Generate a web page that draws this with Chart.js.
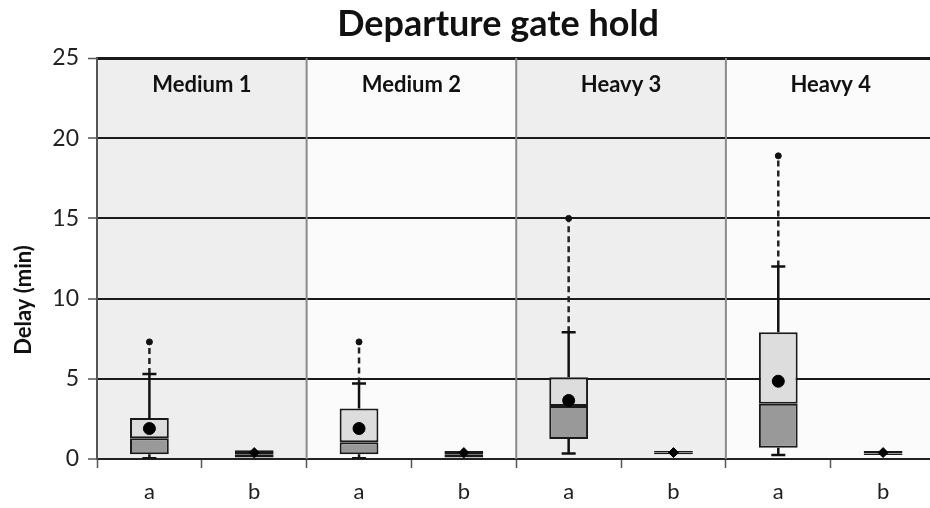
<!DOCTYPE html>
<html>
<head>
<meta charset="utf-8">
<script src="https://cdn.jsdelivr.net/npm/chart.js@4.4.0/dist/chart.umd.min.js"></script>
<style>
  html, body { margin: 0; padding: 0; background: #fff; overflow: hidden; }
  #wrap { width: 930px; height: 508px; overflow: hidden; }
</style>
</head>
<body>
<div id="wrap"><canvas id="chart" width="945" height="508"></canvas></div>
<script>
// ========================================
// data (minutes)
// ========================================
const categories = ['a', 'b', 'a', 'b', 'a', 'b', 'a', 'b'];
const panelNames = ['Medium 1', 'Medium 2', 'Heavy 3', 'Heavy 4'];
const yTicks = [0, 5, 10, 15, 20, 25];

const whiskerLow  = [0.05, 0.05, 0.05, 0.05, 0.35, 0.25, 0.25, 0.2];
const q1          = [0.3, 0.1, 0.3, 0.1, 1.25, 0.3, 0.7, 0.25];
const median      = [1.3, 0.3, 1.05, 0.3, 3.3, 0.4, 3.45, 0.35];
const q3          = [2.55, 0.55, 3.15, 0.5, 5.1, 0.5, 7.9, 0.5];
const whiskerHigh = [5.3, 0.6, 4.7, 0.6, 7.9, 0.55, 12.0, 0.55];
const maxValue    = [7.3, null, 7.3, null, 15.0, null, 18.9, null];
const mean        = [1.9, 0.4, 1.9, 0.4, 3.65, 0.4, 4.85, 0.4];

const FONT = 'Lato';

// ========================================
// build datasets from the arrays
// ========================================
const isA = i => categories[i] === 'a';

const solidPts = [];
const dashedPts = [];
const capPts = [];
const maxPts = [];
categories.forEach((c, i) => {
  solidPts.push({ x: i, y: q3[i] }, { x: i, y: whiskerHigh[i] }, { x: i, y: null });
  solidPts.push({ x: i, y: q1[i] }, { x: i, y: whiskerLow[i] }, { x: i, y: null });
  if (maxValue[i] !== null) {
    dashedPts.push({ x: i, y: whiskerHigh[i] }, { x: i, y: maxValue[i] }, { x: i, y: null });
    maxPts.push({ x: i, y: maxValue[i] });
  }
  if (isA(i)) {
    capPts.push({ x: i, y: whiskerHigh[i] }, { x: i, y: whiskerLow[i] });
  }
});
const meanPts = categories.map((c, i) => ({ x: i, y: mean[i] }));

// ========================================
// panels, labels, titles
// ========================================
const panelPlugin = {
  id: 'panels',
  beforeDraw(chart) {
    const { ctx, chartArea: a, scales: { x } } = chart;
    const w = (a.right - a.left) / categories.length;
    ctx.save();
    ctx.fillStyle = '#fff';
    ctx.fillRect(0, 0, chart.width, chart.height);
    panelNames.forEach((name, p) => {
      const left = x.getPixelForValue(p * 2) - w / 2;
      ctx.fillStyle = p % 2 === 0 ? '#eeeeee' : '#fbfbfb';
      ctx.fillRect(left, a.top, 2 * w, a.bottom - a.top);
    });
    ctx.restore();
  },
  beforeDatasetsDraw(chart) {
    const { ctx, chartArea: a, scales: { x } } = chart;
    const w = (a.right - a.left) / categories.length;
    ctx.save();
    ctx.strokeStyle = '#8a8a8a';
    ctx.lineWidth = 2;
    panelNames.forEach((name, p) => {
      const left = x.getPixelForValue(p * 2) - w / 2;
      if (p > 0) {
        ctx.beginPath();
        ctx.moveTo(left, a.top);
        ctx.lineTo(left, a.bottom);
        ctx.stroke();
      }
      ctx.fillStyle = '#111';
      ctx.font = 'bold 22px ' + FONT;
      ctx.textAlign = 'center';
      ctx.textBaseline = 'middle';
      ctx.fillText(name, left + w, a.top + 27);
    });
    ctx.restore();
  },
  afterDraw(chart) {
    const { ctx } = chart;
    ctx.save();
    ctx.fillStyle = '#111';
    ctx.textAlign = 'center';
    ctx.textBaseline = 'middle';
    ctx.font = 'bold 36px ' + FONT;
    ctx.fillText('Departure gate hold', 498, 24);
    ctx.translate(24, 300);
    ctx.rotate(-Math.PI / 2);
    ctx.font = 'bold 22px ' + FONT;
    ctx.fillText('Delay (min)', 0, 0);
    ctx.restore();
  }
};

// ========================================
// chart
// ========================================
const ctx = document.getElementById('chart').getContext('2d');
new Chart(ctx, {
  data: {
    labels: categories,
    datasets: [
      {
        type: 'scatter',
        label: 'mean',
        xAxisID: 'xl',
        data: meanPts,
        order: 0,
        pointStyle: categories.map((c, i) => isA(i) ? 'circle' : 'rectRot'),
        pointRadius: categories.map((c, i) => isA(i) ? 6 : 5),
        backgroundColor: '#000',
        borderColor: '#000',
        borderWidth: 1
      },
      {
        type: 'scatter',
        label: 'max',
        xAxisID: 'xl',
        data: maxPts,
        order: 0,
        pointStyle: 'circle',
        pointRadius: 3,
        backgroundColor: '#111',
        borderColor: '#111'
      },
      {
        type: 'scatter',
        label: 'caps',
        xAxisID: 'xl',
        data: capPts,
        order: 1,
        pointStyle: 'line',
        pointRadius: 7,
        borderColor: '#111',
        borderWidth: 2.5
      },
      {
        type: 'bar',
        label: 'Q1-median',
        data: q1.map((v, i) => [v, median[i]]),
        order: 3,
        grouped: false,
        barPercentage: 0.37,
        categoryPercentage: 1,
        backgroundColor: categories.map((c, i) => isA(i) ? '#999999' : '#000000'),
        borderColor: '#1a1a1a',
        borderWidth: 2,
        borderSkipped: false
      },
      {
        type: 'bar',
        label: 'median-Q3',
        data: median.map((v, i) => [v, q3[i]]),
        order: 3,
        grouped: false,
        barPercentage: 0.37,
        categoryPercentage: 1,
        backgroundColor: categories.map((c, i) => isA(i) ? '#dddddd' : '#000000'),
        borderColor: '#1a1a1a',
        borderWidth: 2,
        borderSkipped: false
      },
      {
        type: 'line',
        label: 'whisker',
        xAxisID: 'xl',
        data: solidPts,
        order: 4,
        borderColor: '#111',
        borderWidth: 2.5,
        pointRadius: 0,
        spanGaps: false
      },
      {
        type: 'line',
        label: 'whisker ext',
        xAxisID: 'xl',
        data: dashedPts,
        order: 4,
        borderColor: '#222',
        borderWidth: 2.5,
        borderDash: [6, 4],
        pointRadius: 0,
        spanGaps: false
      }
    ]
  },
  options: {
    responsive: false,
    animation: false,
    layout: { padding: { top: 58, right: 6, left: 0, bottom: 0 } },
    plugins: {
      legend: { display: false },
      tooltip: { enabled: false },
      title: { display: false }
    },
    scales: {
      x: {
        type: 'category',
        offset: true,
        afterFit(scale) { scale.height = 49; },
        grid: {
          offset: true,
          drawOnChartArea: false,
          tickLength: 9,
          tickColor: '#555',
          tickWidth: 1.5
        },
        border: { color: '#222', width: 2 },
        ticks: {
          color: '#222',
          padding: 11,
          font: { family: FONT, size: 22 }
        }
      },
      xl: {
        type: 'linear',
        display: false,
        min: -0.5,
        max: categories.length - 0.5
      },
      y: {
        min: 0,
        max: 25,
        afterFit(scale) { scale.width = 97; },
        afterBuildTicks(scale) { scale.ticks = yTicks.map(v => ({ value: v })); },
        grid: {
          color: '#1a1a1a',
          lineWidth: c => (c.tick && c.tick.value === 25 ? 3 : 2),
          tickLength: 9,
          tickColor: '#555',
          tickWidth: 1.5
        },
        border: { color: '#555', width: 2 },
        ticks: {
          color: '#222',
          padding: 9,
          font: { family: FONT, size: 23 }
        }
      }
    }
  },
  plugins: [panelPlugin]
});
</script>
</body>
</html>
